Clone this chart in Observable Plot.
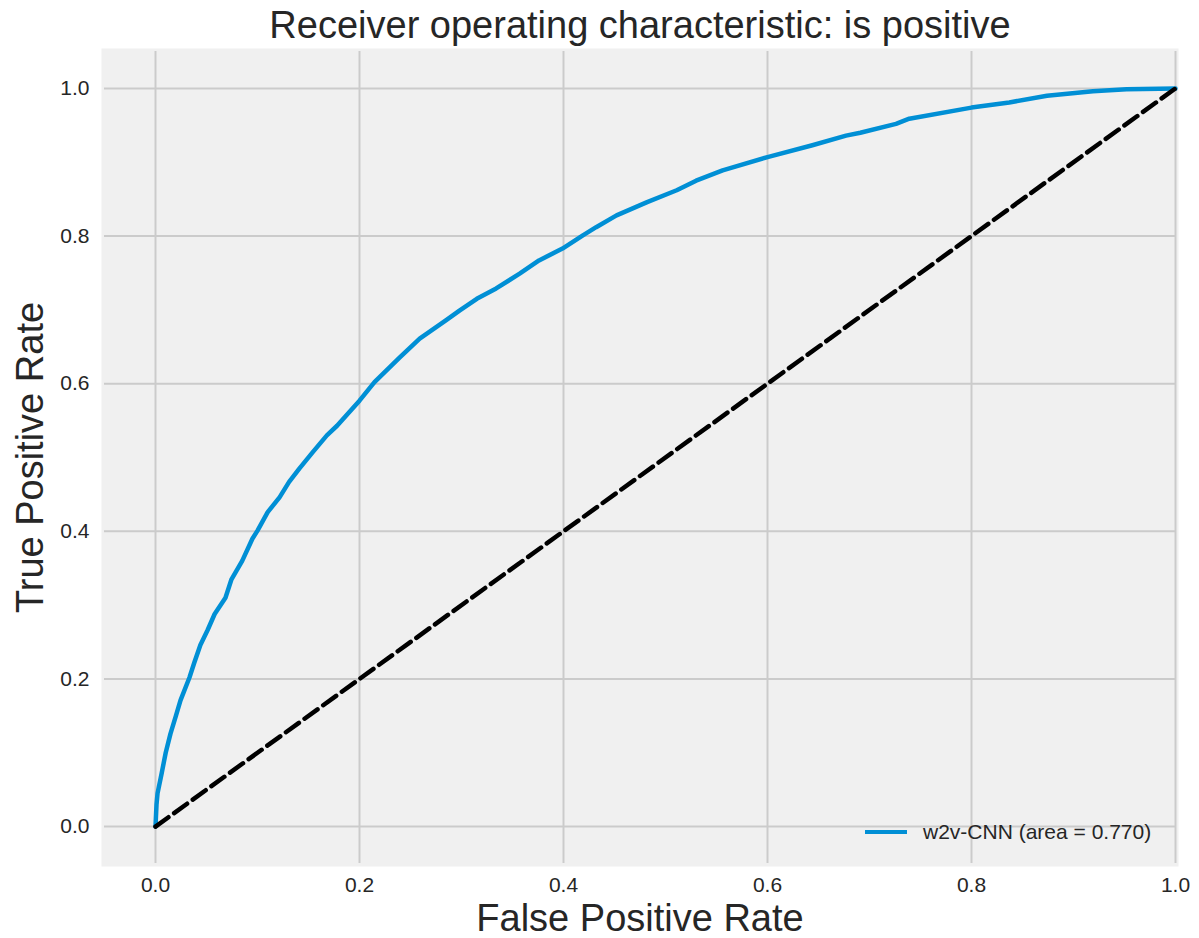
<!DOCTYPE html>
<html><head><meta charset="utf-8">
<script src="https://cdn.jsdelivr.net/npm/d3@7"></script>
<script src="https://cdn.jsdelivr.net/npm/@observablehq/plot@0.6"></script>
<style>
body{margin:0;background:#fff;font-family:"Liberation Sans",Arial,sans-serif;}
#wrap{position:relative;width:1199px;height:938px;}
#wrap svg g[aria-label="x-axis tick label"], #wrap svg g[aria-label="y-axis tick label"]{font-size:21px !important;}
#legend{position:absolute;left:865px;top:820px;display:flex;align-items:center;font-size:21px;color:#262626;white-space:nowrap;}
#legend .sw{width:42px;height:4.5px;background:#008fd5;margin-right:16px;}
</style></head><body><div id="wrap"></div>
<script>
const fpr = [0, 0.001, 0.002, 0.006, 0.010, 0.0147, 0.020, 0.0245, 0.0333, 0.038, 0.044, 0.051, 0.058, 0.0686, 0.0745, 0.085, 0.095, 0.100, 0.110, 0.1216, 0.131, 0.141, 0.154, 0.168, 0.178, 0.187, 0.200, 0.2147, 0.239, 0.259, 0.285, 0.298, 0.315, 0.334, 0.357, 0.376, 0.399, 0.419, 0.432, 0.452, 0.482, 0.511, 0.530, 0.556, 0.600, 0.644, 0.677, 0.691, 0.726, 0.739, 0.800, 0.837, 0.874, 0.919, 0.952, 1.0];
const tpr = [0, 0.030, 0.045, 0.072, 0.100, 0.126, 0.150, 0.171, 0.202, 0.222, 0.246, 0.266, 0.288, 0.310, 0.335, 0.360, 0.390, 0.401, 0.426, 0.446, 0.467, 0.485, 0.507, 0.530, 0.543, 0.557, 0.577, 0.602, 0.635, 0.661, 0.686, 0.699, 0.715, 0.729, 0.749, 0.767, 0.783, 0.801, 0.812, 0.828, 0.846, 0.862, 0.875, 0.889, 0.907, 0.923, 0.936, 0.940, 0.952, 0.959, 0.974, 0.981, 0.990, 0.996, 0.999, 1.0];
const chanceX = [0, 1];
const chanceY = [0, 1];
const xTicks = [0, 0.2, 0.4, 0.6, 0.8, 1.0];
const yTicks = [0, 0.2, 0.4, 0.6, 0.8, 1.0];
const titleText = "Receiver operating characteristic: is positive";
const xLabel = "False Positive Rate";
const yLabel = "True Positive Rate";
const legendLabel = "w2v-CNN (area = 0.770)";

const roc = fpr.map((x, i) => ({x, y: tpr[i]}));
const chance = chanceX.map((x, i) => ({x, y: chanceY[i]}));
const fmt = d3.format(".1f");

const chart = Plot.plot({
  width: 1199, height: 938,
  marginTop: 51, marginBottom: 75, marginLeft: 104, marginRight: 24,
  x: {domain: [-0.05, 1.0]},
  y: {domain: [-0.05, 1.05]},
  style: {fontFamily: '"Liberation Sans", Arial, sans-serif', fontSize: "21px", background: "#fff", color: "#262626"},
  marks: [
    Plot.frame({fill: "#f0f0f0", stroke: "#f0f0f0", strokeWidth: 6}),
    Plot.gridX(xTicks, {stroke: "#cbcbcb", strokeOpacity: 1, strokeWidth: 2}),
    Plot.gridY(yTicks, {stroke: "#cbcbcb", strokeOpacity: 1, strokeWidth: 2}),
    Plot.axisX(xTicks, {tickSize: 0, tickPadding: 14, fontSize: 21, tickFormat: fmt, label: null, fill: "#262626"}),
    Plot.axisY(yTicks, {tickSize: 0, tickPadding: 15, fontSize: 21, tickFormat: fmt, label: null, fill: "#262626"}),
    Plot.line(roc, {x: "x", y: "y", stroke: "#008fd5", strokeWidth: 4.5}),
    Plot.line(chance, {x: "x", y: "y", stroke: "#000", strokeWidth: 4.5, strokeDasharray: "16,7"}),
    Plot.text([titleText], {text: d => d, frameAnchor: "top", lineAnchor: "middle", dy: -26, fontSize: 38, fill: "#262626"}),
    Plot.text([xLabel], {text: d => d, frameAnchor: "bottom", lineAnchor: "middle", dy: 55, fontSize: 38, fill: "#262626"}),
    Plot.text([yLabel], {text: d => d, frameAnchor: "left", textAnchor: "middle", lineAnchor: "middle", dx: -74, rotate: -90, fontSize: 38, fill: "#262626"})
  ]
});
const wrap = document.getElementById("wrap");
wrap.appendChild(chart);
const lg = document.createElement("div");
lg.id = "legend";
lg.innerHTML = '<div class="sw"></div><span></span>';
lg.querySelector("span").textContent = legendLabel;
wrap.appendChild(lg);
</script></body></html>
